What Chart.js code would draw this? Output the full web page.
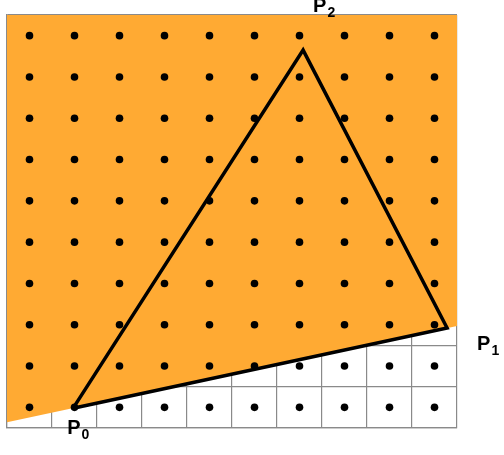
<!DOCTYPE html>
<html>
<head>
<meta charset="utf-8">
<script src="https://cdn.jsdelivr.net/npm/chart.js@4"></script>
<style>
  html, body { margin: 0; padding: 0; background: #fff; }
  #wrap { width: 504px; height: 455px; }
</style>
</head>
<body>
<div id="wrap"><canvas id="myChart"></canvas></div>
<script>
  // pixel centres of the grid, in grid units
  const cols = [0.5, 1.5, 2.5, 3.5, 4.5, 5.5, 6.5, 7.5, 8.5, 9.5];
  const rows = [0.5, 1.5, 2.5, 3.5, 4.5, 5.5, 6.5, 7.5, 8.5, 9.5];

  // triangle vertices
  const names = ['0', '1', '2'];
  const vx = [1.47, 9.78, 6.58];
  const vy = [0.48, 2.42, 9.15];

  // edge P0-P1 extended across the grid (bottom of the orange area)
  const edgeX = [0, 10];
  const edgeY = [0.14, 2.47];

  const dots = [];
  cols.forEach(x => rows.forEach(y => dots.push({ x, y })));

  const tri = [0, 1, 2, 0].map(i => ({ x: vx[i], y: vy[i] }));
  const edge = edgeX.map((x, i) => ({ x, y: edgeY[i] }));

  const labelOffsets = [[-6, 26], [30, 22], [10, -38]];

  const labels = {
    id: 'labels',
    afterDatasetsDraw(chart) {
      const c = chart.ctx, sx = chart.scales.x, sy = chart.scales.y;
      c.save();
      c.fillStyle = '#000';
      c.textBaseline = 'alphabetic';
      names.forEach((n, i) => {
        const px = sx.getPixelForValue(vx[i]) + labelOffsets[i][0];
        const py = sy.getPixelForValue(vy[i]) + labelOffsets[i][1];
        c.font = 'bold 20px "Liberation Sans", Arial, sans-serif';
        c.textAlign = 'left';
        c.fillText('P', px, py);
        const w = c.measureText('P').width;
        c.font = 'bold 14px "Liberation Sans", Arial, sans-serif';
        c.fillText(n, px + w + 1, py + 5);
      });
      c.restore();
    }
  };

  new Chart(document.getElementById('myChart'), {
    type: 'scatter',
    data: {
      datasets: [
        {
          data: edge, showLine: true, borderWidth: 0, pointRadius: 0,
          borderColor: 'rgba(0,0,0,0)', backgroundColor: '#FFAA33', fill: 'end', order: 3
        },
        {
          data: tri, showLine: true, borderColor: '#000', borderWidth: 3.5,
          pointRadius: 0, fill: false, order: 1
        },
        {
          data: dots, pointRadius: 3.8, pointBackgroundColor: '#000',
          pointBorderWidth: 0, order: 2
        }
      ]
    },
    options: {
      responsive: true,
      maintainAspectRatio: false,
      animation: false,
      layout: { padding: { left: 7, right: 47, top: 15, bottom: 27 } },
      plugins: { legend: { display: false }, tooltip: { enabled: false } },
      scales: {
        x: {
          type: 'linear', min: 0, max: 10, z: 1,
          ticks: { display: false, stepSize: 1 },
          grid: { color: '#8a8a8a', lineWidth: 1.2, drawTicks: false },
          border: { color: '#8a8a8a', width: 1.2 }
        },
        y: {
          type: 'linear', min: 0, max: 10, z: 1,
          ticks: { display: false, stepSize: 1 },
          grid: { color: '#8a8a8a', lineWidth: 1.2, drawTicks: false },
          border: { color: '#8a8a8a', width: 1.2 }
        }
      }
    },
    plugins: [labels]
  });
</script>
</body>
</html>
